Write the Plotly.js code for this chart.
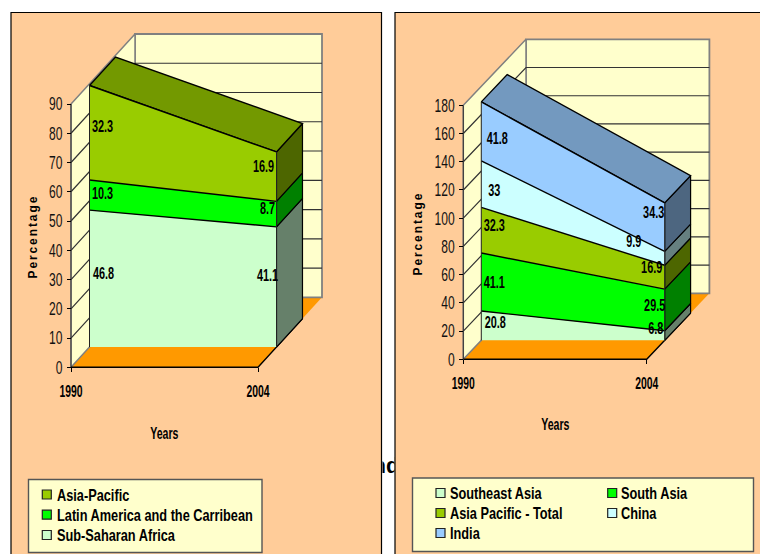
<!DOCTYPE html>
<html>
<head>
<meta charset="utf-8">
<script src="https://cdn.plot.ly/plotly-3.0.1.min.js"></script>
<style>
  html, body { margin: 0; padding: 0; background: #fff; }
  #chart { width: 760px; height: 554px; }
  .annotation[data-index="0"] text, .annotation[data-index="1"] text { letter-spacing: 1.9px; }
</style>
</head>
<body>
<div id="chart"></div>
<script>
// Values per series, listed bottom to top of each stack: [1990, 2004]
const years = [1990, 2004];
const subSaharanAfrica = [46.8, 41.1];
const latinAmerica = [10.3, 8.7];
const asiaPacific = [32.3, 16.9];
const southeastAsia = [20.8, 6.8];
const southAsia = [41.1, 29.5];
const asiaPacificTotal = [32.3, 16.9];
const china = [33, 9.9];
const india = [41.8, 34.3];

const regionTicks = [0, 10, 20, 30, 40, 50, 60, 70, 80, 90];
const asiaTicks = [0, 20, 40, 60, 80, 100, 120, 140, 160, 180];

const regionNames = ['Sub-Saharan Africa', 'Latin America and the Carribean', 'Asia-Pacific'];
const asiaNames = ['Southeast Asia', 'South Asia', 'Asia Pacific - Total', 'China', 'India'];

// Face colours: front, right side, top
const frontColors = { pale: '#CCFFCC', green: '#00FF00', olive: '#99CC00', cyan: '#CCFFFF', blue: '#99CCFF' };
const sideColors = { pale: '#66806A', green: '#008000', olive: '#4D6600', cyan: '#668080', blue: '#4D6680' };
const topColors = { olive: '#739900', blue: '#7399BF' };

const WIDTH = 760, HEIGHT = 554;
const font = '"Liberation Sans", Arial, sans-serif';
const px = v => v / WIDTH;
const py = v => 1 - v / HEIGHT;

const panels = [
  {
    xa: 'x', ya: 'y', values: [subSaharanAfrica, latinAmerica, asiaPacific], names: regionNames,
    tones: ['pale', 'green', 'olive'], ticks: regionTicks,
    originX: 71, originY: 367.3, frontRight: 258, topPx: 104, topValue: 90,
    depthPxX: 64, depthPxY: 70, seriesNear: 0.289, seriesFar: 0.695,
    boxLeft: 60, boxRight: 335, boxTop: 25, boxBottom: 376,
    // pixel nudges of value labels: [dx1990, dy1990, dx2004, dy2004]
    nudges: [[14, -4, -9, -10], [13, 0, -9, -4], [13, -5, -13, -9]]
  },
  {
    xa: 'x2', ya: 'y2', values: [southeastAsia, southAsia, asiaPacificTotal, china, india], names: asiaNames,
    tones: ['pale', 'green', 'olive', 'cyan', 'blue'], ticks: asiaTicks,
    originX: 463.3, originY: 359.3, frontRight: 646.7, topPx: 105.3, topValue: 180,
    depthPxX: 62.7, depthPxY: 66, seriesNear: 0.287, seriesFar: 0.70,
    boxLeft: 452, boxRight: 722, boxTop: 30, boxBottom: 368,
    nudges: [[14, -2, -9, -6], [13, 2, -10, -3], [13, -3, -13, -8], [13, 8, -31, -15], [16, 9, -11, -13]]
  }
];

const traces = [];
const shapes = [];
const annotations = [];
const layout = {
  width: WIDTH, height: HEIGHT, margin: { l: 0, r: 0, t: 0, b: 0 }, autosize: false,
  paper_bgcolor: '#FFFFFF', plot_bgcolor: 'rgba(0,0,0,0)', showlegend: false, hovermode: false
};

// Axis titles come first so the stylesheet can space out the "Percentage" labels
function axisTitle(text, x, y, size, angle) {
  annotations.push({
    xref: 'paper', yref: 'paper', x: px(x), y: py(y), xanchor: 'center', yanchor: 'middle',
    text: text, textangle: angle, showarrow: false,
    font: { family: font, size: size, color: '#000', weight: 700 }
  });
}
axisTitle('Percentage', 33, 237, 12, -90);
axisTitle('Percentage', 418, 234, 12, -90);
axisTitle('Years', 164, 433, 16, 0);
axisTitle('Years', 555, 424, 16, 0);

// Panel frames
[[11, 381.5], [395, 780]].forEach(([l, r]) => shapes.push({
  type: 'rect', layer: 'below', xref: 'paper', yref: 'paper',
  x0: px(l), x1: px(r), y0: py(12.5), y1: py(570),
  fillcolor: '#FFCC99', line: { color: '#000', width: 1.2 }
}));

function polygon(xa, ya, points, fill, lineColor, lineWidth) {
  traces.push({
    type: 'scatter', mode: 'lines', xaxis: xa, yaxis: ya, hoverinfo: 'skip',
    x: points.concat([points[0]]).map(p => p[0]), y: points.concat([points[0]]).map(p => p[1]),
    fill: 'toself', fillcolor: fill,
    line: lineColor ? { color: lineColor, width: lineWidth } : { width: 0 }
  });
}
function polyline(xa, ya, points, color, width) {
  traces.push({
    type: 'scatter', mode: 'lines', xaxis: xa, yaxis: ya, hoverinfo: 'skip',
    x: points.map(p => p ? p[0] : null), y: points.map(p => p ? p[1] : null),
    line: { color: color, width: width }
  });
}

panels.forEach((panel, idx) => {
  const { xa, ya, values, tones, ticks, nudges } = panel;
  const pxPerYear = (panel.frontRight - panel.originX) / (years[1] - years[0]);
  const pxPerUnit = (panel.originY - panel.topPx) / panel.topValue;
  const depthYears = panel.depthPxX / pxPerYear;
  const depthUnits = panel.depthPxY / pxPerUnit;
  const P = (year, value, depth) => [year + depth * depthYears, value + depth * depthUnits];
  const [y0, y1] = years;
  const top = panel.topValue;
  const near = panel.seriesNear, far = panel.seriesFar;
  const suffix = idx === 0 ? '' : '2';

  // Axes are positioned on the front edge of the box; their ranges extend to hold the depth
  layout['xaxis' + suffix] = {
    domain: [px(panel.boxLeft), px(panel.boxRight)],
    range: [y0 + (panel.boxLeft - panel.originX) / pxPerYear, y0 + (panel.boxRight - panel.originX) / pxPerYear],
    anchor: 'free', position: py(panel.originY),
    tickvals: years, ticktext: years.map(String), ticks: 'outside', ticklen: 4, tickcolor: '#000',
    ticklabelstandoff: 6, showgrid: false, zeroline: false, showline: false,
    tickfont: { family: font, size: 16, color: '#000', weight: 700 }
  };
  layout['yaxis' + suffix] = {
    domain: [py(panel.boxBottom), py(panel.boxTop)],
    range: [(panel.originY - panel.boxBottom) / pxPerUnit, (panel.originY - panel.boxTop) / pxPerUnit],
    anchor: 'free', position: px(panel.originX),
    tickvals: ticks, ticktext: ticks.map(String), ticks: 'outside', ticklen: 4, tickcolor: '#000',
    ticklabelstandoff: 1, showgrid: false, zeroline: false, showline: false,
    tickfont: { family: font, size: 18, color: '#111' }
  };

  // Floor and walls
  polygon(xa, ya, [P(y0, 0, 0), P(y1, 0, 0), P(y1, 0, 1), P(y0, 0, 1)], '#FF9900');
  polygon(xa, ya, [P(y0, 0, 1), P(y1, 0, 1), P(y1, top, 1), P(y0, top, 1)], '#FFFFCC', '#808080', 1.8);
  polygon(xa, ya, [P(y0, 0, 0), P(y0, 0, 1), P(y0, top, 1), P(y0, top, 0)], '#FFFFCC', '#808080', 1.5);
  const grid = [];
  ticks.filter(t => t > 0 && t < top).forEach(t => grid.push(P(y0, t, 0), P(y0, t, 1), P(y1, t, 1), null));
  polyline(xa, ya, grid, '#333', 1.2);
  polyline(xa, ya, [P(y0, 0, 0), P(y0, top, 0)], '#333', 1);
  polyline(xa, ya, [P(y0, 0, 0), P(y1, 0, 0), P(y1, 0, far)], '#000', 1.4);

  // Stacked bands: side faces first, then the top face, then the fronts and their edges
  let lower = [0, 0];
  const bands = values.map(v => {
    const upper = [lower[0] + v[0], lower[1] + v[1]];
    const band = { lo: lower, hi: upper, v };
    lower = upper;
    return band;
  });
  bands.forEach((b, i) => {
    polygon(xa, ya, [P(y1, b.lo[1], near), P(y1, b.hi[1], near), P(y1, b.hi[1], far), P(y1, b.lo[1], far)],
      sideColors[tones[i]], '#000', 1.2);
  });
  const last = bands[bands.length - 1];
  polygon(xa, ya, [P(y0, last.hi[0], near), P(y1, last.hi[1], near), P(y1, last.hi[1], far), P(y0, last.hi[0], far)],
    topColors[tones[tones.length - 1]], '#000', 1.4);
  bands.forEach((b, i) => {
    polygon(xa, ya, [P(y0, b.lo[0], near), P(y1, b.lo[1], near), P(y1, b.hi[1], near), P(y0, b.hi[0], near)],
      frontColors[tones[i]]);
  });
  bands.forEach(b => polyline(xa, ya, [P(y0, b.hi[0], near), P(y1, b.hi[1], near)], '#000', 1.4));
  polyline(xa, ya, [P(y0, 0, near), P(y0, last.hi[0], near)], '#222', 1);
  polyline(xa, ya, [P(y1, 0, near), P(y1, last.hi[1], near)], '#222', 1);

  // Value labels sit on the front plane of each band
  const lx = [], ly = [], lt = [];
  bands.forEach((b, i) => {
    [0, 1].forEach(k => {
      const mid = P(years[k], (b.lo[k] + b.hi[k]) / 2, near);
      lx.push(mid[0] + nudges[i][k * 2] / pxPerYear);
      ly.push(mid[1] - nudges[i][k * 2 + 1] / pxPerUnit);
      lt.push(String(b.v[k]));
    });
  });
  traces.push({
    type: 'scatter', mode: 'text', xaxis: xa, yaxis: ya, hoverinfo: 'skip',
    x: lx, y: ly, text: lt, textposition: 'middle center',
    textfont: { family: font, size: 16, color: '#000', weight: 700 }
  });
});

// Legend boxes
function legendBox(l, r, t, b) {
  shapes.push({
    type: 'rect', layer: 'below', xref: 'paper', yref: 'paper',
    x0: px(l), x1: px(r), y0: py(t), y1: py(b),
    fillcolor: '#FFFFCC', line: { color: '#555', width: 1.4 }
  });
}
function legendEntry(name, color, swatchX, textX, rowY) {
  shapes.push({
    type: 'rect', layer: 'below', xref: 'paper', yref: 'paper',
    x0: px(swatchX), x1: px(swatchX + 9), y0: py(rowY - 4.5), y1: py(rowY + 4.5),
    fillcolor: color, line: { color: '#222', width: 1.2 }
  });
  annotations.push({
    xref: 'paper', yref: 'paper', x: px(textX), y: py(rowY), xanchor: 'left', yanchor: 'middle',
    text: name, showarrow: false, font: { family: font, size: 17.3, color: '#000', weight: 700 }
  });
}
legendBox(28.5, 262, 479.5, 552.5);
legendEntry(regionNames[2], frontColors.olive, 42.3, 54.5, 494.5);
legendEntry(regionNames[1], frontColors.green, 42.3, 54.5, 514.7);
legendEntry(regionNames[0], frontColors.pale, 42.3, 54.5, 535);

legendBox(412.5, 753.5, 478, 551.5);
legendEntry(asiaNames[0], frontColors.pale, 436, 448, 493);
legendEntry(asiaNames[1], frontColors.green, 607.7, 619.2, 493);
legendEntry(asiaNames[2], frontColors.olive, 436, 448, 513);
legendEntry(asiaNames[3], frontColors.cyan, 607.7, 619.2, 513);
legendEntry(asiaNames[4], frontColors.blue, 436, 448, 533);

// Slide heading that runs behind both panels: only the gap between them shows it
const headingFragment = 'nd';
layout.xaxis3 = { domain: [px(382.5), px(394.5)], range: [382.5, 394.5], visible: false, anchor: 'y3' };
layout.yaxis3 = { domain: [py(485), py(450)], range: [485, 450], visible: false, anchor: 'x3' };
traces.push({
  type: 'scatter', mode: 'text', xaxis: 'x3', yaxis: 'y3', hoverinfo: 'skip',
  x: [386], y: [467], text: [headingFragment], textposition: 'middle center',
  textfont: { family: font, size: 22, color: '#000', weight: 700 }
});

layout.shapes = shapes;
layout.annotations = annotations;

// The chart's lettering is a tall condensed face: narrow each label horizontally about its anchor
function condense(nodes, factor, anchor) {
  nodes.forEach(node => {
    const box = node.getBBox();
    const cx = anchor === 'left' ? box.x : anchor === 'right' ? box.x + box.width : box.x + box.width / 2;
    const prior = node.getAttribute('transform') || '';
    node.setAttribute('transform', `${prior} translate(${cx},0) scale(${factor},1) translate(${-cx},0)`);
  });
}

Plotly.newPlot('chart', traces, layout, { displayModeBar: false, staticPlot: true }).then(gd => {
  const all = sel => Array.from(gd.querySelectorAll(sel));
  condense(all('.ytick text, .y2tick text'), 0.67, 'right');
  condense(all('.xtick text, .x2tick text'), 0.65, 'center');
  condense(all('.textpoint text').filter(t => t.textContent !== headingFragment), 0.68, 'center');
  condense(all('.annotation').filter(a => +a.getAttribute('data-index') >= 2 && +a.getAttribute('data-index') < 4)
    .map(a => a.querySelector('text')), 0.66, 'center');
  condense(all('.annotation').filter(a => +a.getAttribute('data-index') >= 4)
    .map(a => a.querySelector('text')), 0.738, 'left');
});
</script>
</body>
</html>
